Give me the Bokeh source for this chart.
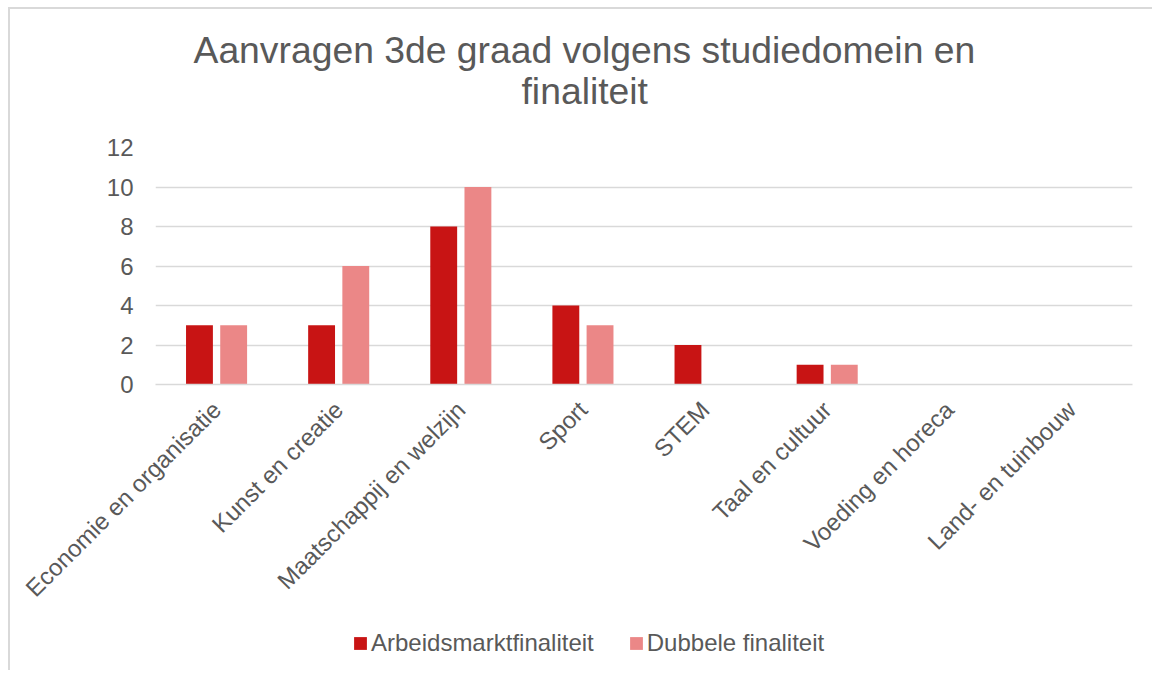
from bokeh.plotting import figure
from bokeh.models import ColumnDataSource, FactorRange, Title, Legend, LegendItem, SingleIntervalTicker
from bokeh.layouts import column
from bokeh.transform import dodge
from bokeh.embed import file_html
from bokeh.resources import INLINE
import math

categories = ["Economie en organisatie", "Kunst en creatie", "Maatschappij en welzijn",
              "Sport", "STEM", "Taal en cultuur", "Voeding en horeca", "Land- en tuinbouw"]
arbeidsmarkt = [3, 3, 8, 4, 2, 1, 0, 0]
dubbele = [3, 6, 10, 3, 0, 1, 0, 0]
series_names = ["Arbeidsmarktfinaliteit", "Dubbele finaliteit"]
series_colors = ["#C81414", "#EB8787"]
title_lines = ["Aanvragen 3de graad volgens studiedomein en", "finaliteit"]

FONT = "Liberation Sans"
TXT = "#595959"
W = 1142

src = ColumnDataSource(dict(cat=categories, a=arbeidsmarkt, d=dubbele))

p = figure(x_range=FactorRange(*categories), y_range=(0, 12),
           width=W, height=611, output_backend="svg", toolbar_location=None,
           min_border_left=145, min_border_right=20, min_border_top=138, min_border_bottom=236)
p.outline_line_color = None
p.x_range.range_padding = 0
p.x_range.group_padding = 0

p.vbar(x=dodge("cat", -0.14, range=p.x_range), top="a", width=0.22, source=src,
       fill_color=series_colors[0], line_color=None)
p.vbar(x=dodge("cat", 0.14, range=p.x_range), top="d", width=0.22, source=src,
       fill_color=series_colors[1], line_color=None)

p.yaxis.ticker = SingleIntervalTicker(interval=2)
p.yaxis.axis_line_color = None
p.yaxis.major_tick_line_color = None
p.yaxis.minor_tick_line_color = None
p.yaxis.major_label_text_font = FONT
p.yaxis.major_label_text_font_size = "24px"
p.yaxis.major_label_text_color = TXT
p.yaxis.major_label_standoff = 16

p.xaxis.axis_line_color = "#d9d9d9"
p.xaxis.axis_line_width = 1.5
p.xaxis.major_tick_line_color = None
p.xaxis.minor_tick_line_color = None
p.xaxis.major_label_orientation = math.pi / 4
p.xaxis.major_label_text_font = FONT
p.xaxis.major_label_text_font_size = "24px"
p.xaxis.major_label_text_color = TXT
p.xaxis.major_label_standoff = 15

p.xgrid.grid_line_color = None
p.ygrid.grid_line_color = "#d9d9d9"
p.ygrid.grid_line_width = 1.5

# title: spacer first, then the second line, then the first line (stacked upward)
p.add_layout(Title(text=" ", text_font_size="1px", standoff=33), "above")
p.add_layout(Title(text=title_lines[1], align="left", offset=366, standoff=0,
                   text_font=FONT, text_font_size="37.3px", text_font_style="normal",
                   text_color=TXT), "above")
p.add_layout(Title(text=title_lines[0], align="left", offset=38, standoff=-6,
                   text_font=FONT, text_font_size="37.3px", text_font_style="normal",
                   text_color=TXT), "above")

# legend strip below the chart (zero-size swatch bars only feed the legend glyphs)
p2 = figure(width=W, height=50, x_range=(0, 1), y_range=(0, 1), output_backend="svg",
            toolbar_location=None, x_axis_type=None, y_axis_type=None,
            min_border_left=0, min_border_right=0, min_border_top=0, min_border_bottom=0)
p2.outline_line_color = None
p2.xgrid.grid_line_color = None
p2.ygrid.grid_line_color = None
swatch = ColumnDataSource(dict(x=[0], top=[0]))
lr1 = p2.vbar(x="x", top="top", width=0.0, source=swatch, fill_color=series_colors[0], line_color=None)
lr2 = p2.vbar(x="x", top="top", width=0.0, source=swatch, fill_color=series_colors[1], line_color=None)
legend = Legend(items=[LegendItem(label=series_names[0], renderers=[lr1]),
                       LegendItem(label=series_names[1], renderers=[lr2])],
                orientation="horizontal", location=(197, 13),
                glyph_width=16, glyph_height=16, label_standoff=3, spacing=34,
                padding=0, margin=0, border_line_color=None, background_fill_alpha=0,
                label_text_font=FONT, label_text_font_size="24px", label_text_color=TXT)
p2.add_layout(legend, "center")

layout = column(p, p2, spacing=0)
layout.styles = {"margin-left": "8px", "margin-top": "7px",
                 "border-left": "2px solid #d9d9d9", "border-top": "2px solid #d9d9d9"}

open("out.html", "w").write(file_html(layout, INLINE))
